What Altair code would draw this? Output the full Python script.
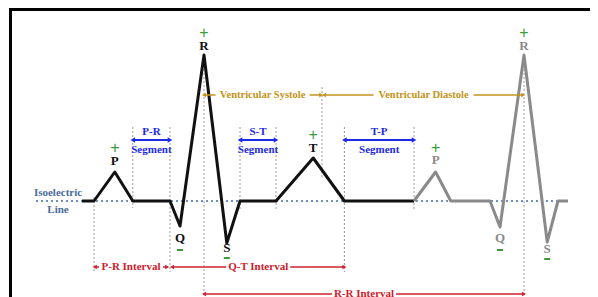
import altair as alt
import pandas as pd

# ---------------- data (time in ms, amplitude in mV) ----------------
beat1_t = [0, 30, 82, 127, 220, 245, 305, 362, 395, 485, 578, 656, 830]
beat1_v = [0, 0, 0.29, 0, 0, -0.25, 1.46, -0.42, 0, 0, 0.43, 0, 0]
beat2_t = [830, 884, 922, 1020, 1045, 1105, 1163, 1190, 1215]
beat2_v = [0, 0.29, 0, 0, -0.26, 1.46, -0.41, 0, 0]

iso_t = [-115, 1215]

guide_t = [30, 127, 220, 305, 395, 485, 600, 656, 830, 1105]
guide_top = [0.04, 0.74, 0.74, 1.40, 0.74, 0.74, 1.14, 0.74, 0.74, 1.40]
guide_bottom = [-0.71, -0.07, -0.71, -0.96, -0.09, -0.09, 0.23, -0.71, -0.09, -0.96]

seg_names = ["P-R", "S-T", "T-P"]
seg_start = [127, 395, 656]
seg_end = [220, 485, 830]
seg_level = 0.61

int_labels = ["Ventricular Systole", "Ventricular Diastole", "P-R Interval", "Q-T Interval", "R-R Interval"]
int_start = [305, 605, 32, 225, 305]
int_end = [598, 1103, 213, 656, 1105]
int_level = [1.06, 1.06, -0.66, -0.66, -0.93]
int_halfwidth_px = [47, 50, 32, 32, 32]
int_color = ["#c39320", "#c39320", "#d0202c", "#d0202c", "#d0202c"]
int_size = [10.5, 10.5, 11, 11, 11]

wave_letters = ["P", "Q", "R", "S", "T", "P", "Q", "R", "S"]
letter_t = [82, 245, 305, 362, 578, 884, 1045, 1105, 1163]
letter_v = [0.40, -0.37, 1.55, -0.47, 0.53, 0.41, -0.37, 1.55, -0.48]
letter_sign = ["+", "-", "+", "-", "+", "+", "-", "+", "-"]
sign_v = [0.53, -0.49, 1.68, -0.57, 0.66, 0.53, -0.49, 1.68, -0.58]
letter_beat = ["1", "1", "1", "1", "1", "2", "2", "2", "2"]

# ---------------- scales ----------------
W, H = 582, 289
MS_PER_PX = 2.5
xs = alt.Scale(domain=[-185, 1270], nice=False, zero=False)
ys = alt.Scale(domain=[-0.96, 1.93], nice=False, zero=False)


def X(f):
    return alt.X(f"{f}:Q", scale=xs, axis=None)


def X2(f):
    return alt.X2(f"{f}:Q")


def Y(f):
    return alt.Y(f"{f}:Q", scale=ys, axis=None)


def Y2(f):
    return alt.Y2(f"{f}:Q")


SERIF = "Liberation Serif"
GREEN = "#3d9a3a"

# ---------------- tables ----------------
beat1 = pd.DataFrame({"t": beat1_t, "v": beat1_v, "i": range(len(beat1_t))})
beat2 = pd.DataFrame({"t": beat2_t, "v": beat2_v, "i": range(len(beat2_t))})
iso = pd.DataFrame({"t": [iso_t[0]], "t2": [iso_t[1]], "v": [0.0]})
guides = pd.DataFrame({"t": guide_t, "top": guide_top, "bot": guide_bottom})
segs = pd.DataFrame({"name": seg_names, "s": seg_start, "e": seg_end})
segs["mid"] = (segs["s"] + segs["e"]) / 2
segs["lvl"] = seg_level

# interval lines split around their labels
rows, heads, labels = [], [], []
for lab, s, e, lv, hw, col, fs in zip(int_labels, int_start, int_end, int_level,
                                      int_halfwidth_px, int_color, int_size):
    mid = (s + e) / 2
    gap = hw * MS_PER_PX
    rows.append({"a": s, "b": mid - gap, "v": lv, "c": col})
    rows.append({"a": mid + gap, "b": e, "v": lv, "c": col})
    heads.append({"t": s, "v": lv, "c": col, "dir": "L"})
    heads.append({"t": e, "v": lv, "c": col, "dir": "R"})
    labels.append({"t": mid, "v": lv, "c": col, "label": lab, "fs": fs})
int_lines = pd.DataFrame(rows)
int_heads = pd.DataFrame(heads)
int_text = pd.DataFrame(labels)

seg_heads = pd.DataFrame(
    [{"t": s, "v": seg_level, "dir": "L"} for s in seg_start]
    + [{"t": e, "v": seg_level, "dir": "R"} for e in seg_end]
)

letters = pd.DataFrame({"t": letter_t, "v": letter_v, "L": wave_letters,
                        "sign": letter_sign, "sv": sign_v, "beat": letter_beat})
plus = letters[letters["sign"] == "+"]
minus = letters[letters["sign"] == "-"].copy()
minus["a"] = minus["t"] - 3 * MS_PER_PX
minus["b"] = minus["t"] + 3 * MS_PER_PX

# ---------------- layers ----------------
frame_left = alt.Chart(pd.DataFrame({"k": [0]})).mark_rule(color="#000", strokeWidth=3).encode(
    x=alt.value(2.5), y=alt.value(0), y2=alt.value(H))
frame_top = alt.Chart(pd.DataFrame({"k": [0]})).mark_rule(color="#000", strokeWidth=3).encode(
    x=alt.value(1), x2=alt.value(585), y=alt.value(1.5))

guide_layer = alt.Chart(guides).mark_rule(color="#9a9a9a", strokeWidth=1, strokeDash=[2, 2]).encode(
    x=X("t"), y=Y("top"), y2=Y2("bot"))

iso_layer = alt.Chart(iso).mark_rule(color="#3f6ea6", strokeWidth=1.6, strokeDash=[2, 3]).encode(
    x=X("t"), x2=X2("t2"), y=Y("v"))

beat1_layer = alt.Chart(beat1).mark_line(color="#111111", strokeWidth=3, strokeJoin="round").encode(
    x=X("t"), y=Y("v"), order="i:Q")
beat2_layer = alt.Chart(beat2).mark_line(color="#8a8a8a", strokeWidth=3, strokeJoin="round").encode(
    x=X("t"), y=Y("v"), order="i:Q")

seg_line = alt.Chart(segs).mark_rule(color="#1c2ae6", strokeWidth=2).encode(
    x=X("s"), x2=X2("e"), y=Y("lvl"))
seg_head_layer = alt.Chart(seg_heads).mark_point(filled=True, size=28, opacity=1, color="#1c2ae6").encode(
    x=X("t"), y=Y("v"),
    shape=alt.Shape("dir:N", scale=alt.Scale(domain=["L", "R"], range=["triangle-left", "triangle-right"]), legend=None))
seg_top_text = alt.Chart(segs).mark_text(font=SERIF, fontWeight="bold", fontSize=11, color="#1c2ae6",
                                         baseline="middle", dy=-8).encode(
    x=X("mid"), y=Y("lvl"), text="name:N")
seg_bot_text = alt.Chart(segs).mark_text(font=SERIF, fontWeight="bold", fontSize=11, color="#1c2ae6",
                                         baseline="middle", dy=10).encode(
    x=X("mid"), y=Y("lvl"), text=alt.value("Segment"))

int_line_layer = alt.Chart(int_lines).mark_rule(strokeWidth=1.5).encode(
    x=X("a"), x2=X2("b"), y=Y("v"), color=alt.Color("c:N", scale=None))
int_head_layer = alt.Chart(int_heads).mark_point(filled=True, size=22, opacity=1).encode(
    x=X("t"), y=Y("v"), color=alt.Color("c:N", scale=None),
    shape=alt.Shape("dir:N", scale=alt.Scale(domain=["L", "R"], range=["triangle-left", "triangle-right"]), legend=None))
int_text_layer = alt.Chart(int_text).mark_text(font=SERIF, fontWeight="bold", baseline="middle").encode(
    x=X("t"), y=Y("v"), text="label:N", color=alt.Color("c:N", scale=None),
    size=alt.Size("fs:Q", scale=None))

letter_layer = alt.Chart(letters).mark_text(font=SERIF, fontWeight="bold", fontSize=13, baseline="middle").encode(
    x=X("t"), y=Y("v"), text="L:N",
    color=alt.Color("beat:N", scale=alt.Scale(domain=["1", "2"], range=["#111111", "#8a8a8a"]), legend=None))
plus_layer = alt.Chart(plus).mark_text(font="Liberation Sans", fontSize=16, baseline="middle",
                                       color=GREEN).encode(
    x=X("t"), y=Y("sv"), text="sign:N")
minus_layer = alt.Chart(minus).mark_rule(color=GREEN, strokeWidth=2).encode(
    x=X("a"), x2=X2("b"), y=Y("sv"))

iso_text = alt.Chart(pd.DataFrame({"t": [-60, -60], "v": [0.08, -0.09],
                                   "s": ["Isoelectric", "Line"]})).mark_text(
    font=SERIF, fontWeight="bold", fontSize=11, color="#4a6c9c", baseline="middle").encode(
    x=X("t"), y=Y("v"), text="s:N")

chart = alt.layer(
    guide_layer, iso_layer, beat1_layer, beat2_layer,
    seg_line, seg_head_layer, seg_top_text, seg_bot_text,
    int_line_layer, int_head_layer, int_text_layer,
    letter_layer, plus_layer, minus_layer, iso_text,
    frame_left, frame_top,
).properties(
    width=W, height=H, padding=0, autosize=alt.AutoSizeParams(type="none"),
    background="white",
).configure_view(stroke=None)

chart.save("out.html", embed_options={"renderer": "svg", "actions": False})
